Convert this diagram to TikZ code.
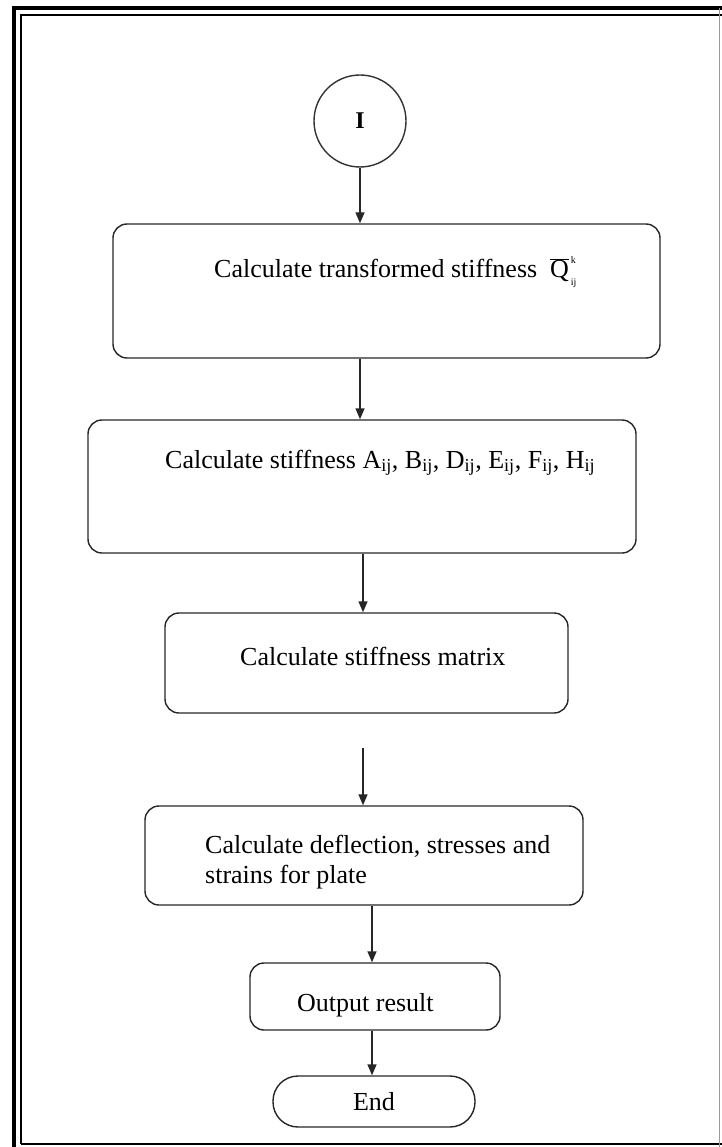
\documentclass[tikz,border=0pt]{standalone}
\usepackage{fontspec}
\setmainfont{Liberation Serif}
\usetikzlibrary{arrows.meta}
\begin{document}
\begin{tikzpicture}[x=1pt,y=-1pt,
  box/.style={draw=black!85,line width=1.4pt,rounded corners=14pt,inner sep=0pt},
  txt/.style={font=\fontsize{26}{30}\selectfont,inner sep=0pt,anchor=base west},
  arr/.style={draw=black!85,line width=1.4pt,-{Triangle[length=11pt,width=9pt]}}]
\useasboundingbox (0,0) rectangle (721,1147);
% frame
\draw[line width=3.5pt] (14,1160) -- (14,8) -- (730,8);
\draw[line width=2.6pt] (21,1144) -- (21,15) -- (730,15);
\draw[line width=2.6pt] (21,1144) -- (730,1144);
\draw[line width=1pt,black!40] (719.5,8) -- (719.5,1160);
% nodes
\node[draw=black!80,line width=1.4pt,circle,minimum size=92pt,inner sep=0pt,font=\fontsize{24}{24}\selectfont\bfseries] (c) at (360,121) {I};
\node[box,minimum width=547pt,minimum height=134pt] (b1) at (386.5,291) {};
\node[box,minimum width=548pt,minimum height=133pt] (b2) at (362,486.5) {};
\node[box,minimum width=403pt,minimum height=100pt] (b3) at (366.5,663) {};
\node[box,minimum width=438pt,minimum height=99pt] (b4) at (364,855.5) {};
\node[box,minimum width=250pt,minimum height=67pt] (b5) at (375,996.5) {};
\node[draw=black!85,line width=1.4pt,rounded corners=25pt,minimum width=202pt,minimum height=51pt,inner sep=0pt,font=\fontsize{26}{26}\selectfont] (e) at (374,1101.5) {End};
% texts
\node[txt] (t1) at (214,278) {Calculate transformed stiffness \ \(\overline{\hbox{Q}}\)\kern2pt\raisebox{-8pt}{\shortstack[l]{\fontsize{10}{10}\selectfont k\\[13pt]\fontsize{10}{10}\selectfont ij}}};
\node[txt] (t2) at (165,468) {Calculate stiffness A\textsubscript{ij}, B\textsubscript{ij}, D\textsubscript{ij}, E\textsubscript{ij}, F\textsubscript{ij}, H\textsubscript{ij}};
\node[txt] (t3) at (240,665) {Calculate stiffness matrix};
\node[txt] (t4a) at (205,853) {Calculate deflection, stresses and};
\node[txt] (t4b) at (205,883) {strains for plate};
\node[txt] (t5) at (297,1011) {Output result};
% connectors
\coordinate (xa) at (360,0);
\coordinate (xb) at (363,0);
\coordinate (xc) at (372,0);
\coordinate (g) at (363,748);
\draw[arr] (c.south) -- (b1.north -| xa);
\draw[arr] (b1.south -| xa) -- (b2.north -| xa);
\draw[arr] (b2.south -| xb) -- (b3.north -| xb);
\draw[arr] (g) -- (b4.north -| xb);
\draw[arr] (b4.south -| xc) -- (b5.north -| xc);
\draw[arr] (b5.south -| xc) -- (e.north -| xc);
\end{tikzpicture}
\end{document}
